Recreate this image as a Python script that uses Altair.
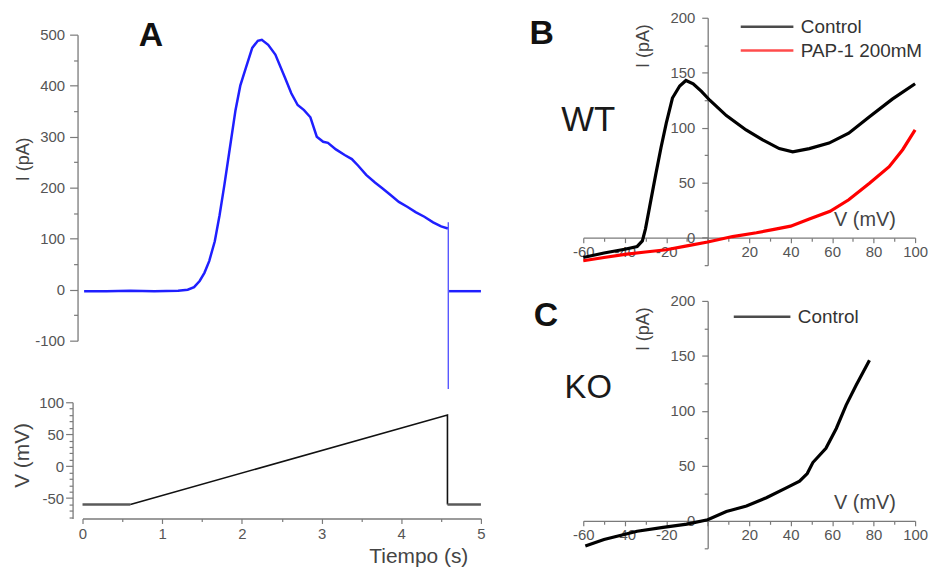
import altair as alt
import pandas as pd

FONT = "Liberation Sans"
AXIS_GRAY = "#7a7a7a"
LABEL_GRAY = "#555555"

# ---------------- Panel A (top): current vs time ----------------
trace_t = [0.02, 0.3, 0.6, 0.9, 1.2, 1.32, 1.4, 1.47, 1.53, 1.59, 1.66, 1.72, 1.78, 1.84,
           1.92, 1.98, 2.05, 2.13, 2.2, 2.25, 2.33, 2.42, 2.54, 2.62, 2.7, 2.78, 2.86, 2.94,
           3.02, 3.08, 3.18, 3.29, 3.38, 3.46, 3.56, 3.67, 3.77, 3.87, 3.97, 4.08, 4.18,
           4.29, 4.4, 4.5, 4.585]
trace_i = [-3, -3, -2, -3, -2, 0, 5, 17, 33, 56, 95, 146, 205, 268,
           352, 400, 435, 474, 488, 490, 480, 461, 416, 385, 362, 352, 338, 300,
           290, 288, 275, 264, 256, 243, 225, 210, 198, 185, 172, 162, 152,
           143, 132, 124, 120]
post_t = [4.6, 5.0]
post_i = [-3, -3]
spike_t = [4.59]
spike_top = [132]
spike_bottom = [-195]

# ---------------- Panel A (bottom): voltage protocol ----------------
hold1_t = [0.0, 0.6]
hold1_v = [-60, -60]
ramp_t = [0.6, 4.58, 4.58]
ramp_v = [-60, 80, -60]
hold2_t = [4.58, 5.0]
hold2_v = [-60, -60]

# ---------------- Panel B (WT) ----------------
ctrl_v = [-60, -50, -40, -34, -31.5, -30, -28, -25, -22.5, -20, -17, -13.5, -10.5, -7, -3,
          1, 9, 18.5, 26.5, 34.5, 41, 49, 58.5, 68, 78, 89, 100]
ctrl_i = [-18, -14, -10.5, -8, -3, 8, 28, 58, 82, 104, 127, 138, 143, 140, 133,
          125, 111, 98, 89, 81, 78, 81, 86, 95, 110, 126, 140]
pap_v = [-60, -50, -39, -30, -20, -10, 0, 12, 23.5, 32, 40, 49, 59, 68, 78, 87.5, 94, 100]
pap_i = [-21, -18, -15, -13, -11, -7.5, -4, 1, 4.5, 7.5, 10.5, 17, 24, 34.5, 49.5, 64.5, 80, 98]

# ---------------- Panel C (KO) ----------------
ko_v = [-59, -50, -34, -21.5, -10, 0, 9, 18.7, 28.3, 37.9, 44.3, 48, 50.7, 57, 62, 66.7, 71.5, 78]
ko_i = [-23, -17, -9.5, -6, -3, 1, 8.4, 13.5, 21, 30, 36, 43, 53, 66, 84, 105, 123, 146]

# tick lists
a_top_ticks = list(range(-100, 501, 50))
a_bot_vticks = list(range(-80, 101, 10))
a_bot_tticks = [i * 0.5 for i in range(11)]
iv_xticks = list(range(-60, 101, 10))
iv_yticks = list(range(-25, 201, 25))

# sizes
WA, HA1, HA2 = 401, 308, 117
WB, HB = 334, 249
A_DOM = [-100, 500]
V_DOM = [-82, 100]
IV_X = [-60, 100]
IV_Y = [-25, 200]


def tsize(test, major, minor):
    return {"condition": {"test": test, "value": major}, "value": minor}


# ================= Panel A top =================
dfA = pd.DataFrame({
    "t": trace_t + post_t,
    "i": trace_i + post_i,
    "seg": ["a"] * len(trace_t) + ["b"] * len(post_t),
    "k": list(range(len(trace_t) + len(post_t))),
})
dfSpike = pd.DataFrame({"t": spike_t, "i": spike_top, "i2": spike_bottom})
dfAL = pd.DataFrame({"t": [0.86], "i": [498], "txt": ["A"]})

xA = alt.X("t:Q", scale=alt.Scale(domain=[0, 5], nice=False, zero=False), axis=None)
yA = alt.Y("i:Q", scale=alt.Scale(domain=A_DOM, nice=False),
           axis=alt.Axis(values=a_top_ticks,
                         labelExpr="datum.value % 100 == 0 ? '' + datum.value : ''",
                         tickSize=tsize("datum.value % 100 == 0", 8, 4),
                         offset=5, labelPadding=5,
                         title="I (pA)", titleX=-54, titleY=125, titleAngle=270,
                         titleAlign="center", titleBaseline="middle", titleFontSize=18))

a_line = alt.Chart(dfA).mark_line(color="#1f1fff", strokeWidth=2.5).encode(
    x=xA, y=yA, detail="seg:N", order="k:Q")
a_spike = alt.Chart(dfSpike).mark_rule(color="#3b3bff", strokeWidth=1.2).encode(
    x=xA, y=yA, y2="i2:Q")
a_letter = alt.Chart(dfAL).mark_text(fontSize=34, fontWeight="bold", font=FONT,
                                     color="#111", baseline="middle", align="center").encode(
    x=xA, y=yA, text="txt:N")
A_top = alt.layer(a_line, a_spike, a_letter).properties(width=WA, height=HA1)

# ================= Panel A bottom =================
dfV = pd.DataFrame({
    "t": hold1_t + ramp_t + hold2_t,
    "v": hold1_v + ramp_v + hold2_v,
    "seg": ["h1"] * 2 + ["r"] * 3 + ["h2"] * 2,
    "kind": ["hold"] * 2 + ["ramp"] * 3 + ["hold"] * 2,
    "k": list(range(7)),
})
xV = alt.X("t:Q", scale=alt.Scale(domain=[0, 5], nice=False, zero=False),
           axis=alt.Axis(values=a_bot_tticks,
                         labelExpr="datum.value % 1 == 0 ? '' + datum.value : ''",
                         tickSize=tsize("datum.value % 1 == 0", 5, 3),
                         labelPadding=3,
                         title="Tiempo (s)", titleX=338, titleY=38, titleFontSize=21,
                         titleAlign="center", titleBaseline="middle"))
yV = alt.Y("v:Q", scale=alt.Scale(domain=V_DOM, nice=False),
           axis=alt.Axis(values=a_bot_vticks,
                         labelExpr="datum.value % 50 == 0 ? '' + datum.value : ''",
                         tickSize=tsize("datum.value % 50 == 0", 7, 3.5),
                         offset=10, labelPadding=2,
                         title="V (mV)", titleX=-50, titleY=53, titleAngle=270,
                         titleAlign="center", titleBaseline="middle", titleFontSize=21))
A_bot = alt.Chart(dfV).mark_line().encode(
    x=xV, y=yV, detail="seg:N", order="k:Q",
    color=alt.Color("kind:N", scale=alt.Scale(domain=["hold", "ramp"], range=["#5a5a5a", "#111111"]),
                    legend=None),
    strokeWidth=alt.StrokeWidth("kind:N", scale=alt.Scale(domain=["hold", "ramp"], range=[2.6, 1.6]),
                                legend=None),
).properties(width=WA, height=HA2)

# ================= Panel B =================
x0_off = -WB * (0 - IV_X[0]) / (IV_X[1] - IV_X[0])
y0_off = HB * (IV_Y[1] - 0) / (IV_Y[1] - IV_Y[0]) - HB


def iv_axes(ytitle_y):
    x = alt.X("v:Q", scale=alt.Scale(domain=IV_X, nice=False, zero=False),
              axis=alt.Axis(values=iv_xticks,
                            labelExpr="datum.value % 20 == 0 && datum.value != 0 ? '' + datum.value : ''",
                            tickSize=tsize("datum.value % 20 == 0", 5, 3.5),
                            offset=y0_off, labelPadding=2,
                            title="V (mV)", titleX=283, titleY=-18,
                            titleAlign="center", titleBaseline="middle"))
    y = alt.Y("i:Q", scale=alt.Scale(domain=IV_Y, nice=False),
              axis=alt.Axis(values=iv_yticks,
                            labelExpr="datum.value % 50 == 0 ? '' + datum.value : ''",
                            tickSize=tsize("datum.value % 50 == 0", 6, 3.5),
                            offset=x0_off, labelPadding=7,
                            title="I (pA)", titleX=-65, titleY=ytitle_y, titleAngle=270,
                            titleAlign="center", titleBaseline="middle", titleFontSize=18))
    return x, y


def legend(lx, ly, size):
    return alt.Legend(orient="none", legendX=lx, legendY=ly, title=None,
                      symbolType="stroke", symbolSize=size, symbolStrokeWidth=2.5,
                      symbolOpacity=0.7, clipHeight=24, rowPadding=0,
                      labelFontSize=19, labelFont=FONT, labelColor="#333",
                      labelOffset=6, padding=0)


dfB = pd.DataFrame({
    "v": ctrl_v + pap_v,
    "i": ctrl_i + pap_i,
    "series": ["Control"] * len(ctrl_v) + ["PAP-1 200mM"] * len(pap_v),
})
dfBT = pd.DataFrame({"v": [-80, -57.6], "i": [185, 107], "txt": ["B", "WT"]})
xB, yB = iv_axes(28)
b_lines = alt.Chart(dfB).mark_line(strokeWidth=3.2).encode(
    x=xB, y=yB,
    color=alt.Color("series:N",
                    scale=alt.Scale(domain=["Control", "PAP-1 200mM"], range=["#000000", "#ff0000"]),
                    legend=legend(157, -3, 2809)),
)
b_B = alt.Chart(dfBT.iloc[[0]]).mark_text(fontSize=34, fontWeight="bold", font=FONT, color="#111",
                                          baseline="middle", align="center").encode(x=xB, y=yB, text="txt:N")
b_WT = alt.Chart(dfBT.iloc[[1]]).mark_text(fontSize=35, font=FONT, color="#1a1a1a",
                                           baseline="middle", align="center").encode(x=xB, y=yB, text="txt:N")
B = alt.layer(b_lines, b_B, b_WT).properties(width=WB, height=HB)

# ================= Panel C =================
dfC = pd.DataFrame({"v": ko_v, "i": ko_i, "series": ["Control"] * len(ko_v)})
dfCT = pd.DataFrame({"v": [-78, -57.6], "i": [186, 121], "txt": ["C", "KO"]})
xC, yC = iv_axes(28)
c_line = alt.Chart(dfC).mark_line(strokeWidth=3.2).encode(
    x=xC, y=yC,
    color=alt.Color("series:N", scale=alt.Scale(domain=["Control"], range=["#000000"]),
                    legend=legend(150, 4, 3249)),
)
c_C = alt.Chart(dfCT.iloc[[0]]).mark_text(fontSize=34, fontWeight="bold", font=FONT, color="#111",
                                          baseline="middle", align="center").encode(x=xC, y=yC, text="txt:N")
c_KO = alt.Chart(dfCT.iloc[[1]]).mark_text(fontSize=33, font=FONT, color="#1a1a1a",
                                           baseline="middle", align="center").encode(x=xC, y=yC, text="txt:N")
C = alt.layer(c_line, c_C, c_KO).properties(width=WB, height=HB)

# ================= Layout =================
spacer = alt.Chart(pd.DataFrame({"s": [0]})).mark_point(opacity=0).encode(
    x=alt.X("s:Q", axis=None), y=alt.Y("s:Q", axis=None)).properties(width=WA, height=17)

colA = alt.vconcat(spacer, alt.vconcat(A_top, A_bot, spacing=62, bounds="flush"),
                   spacing=0, bounds="flush").resolve_scale(color="independent", strokeWidth="independent")
colB = alt.vconcat(B, C, spacing=36, bounds="flush").resolve_scale(color="independent")

chart = alt.hconcat(colA, colB, spacing=42).resolve_scale(
    color="independent", strokeWidth="independent"
).properties(
    padding={"left": 4, "top": 1, "right": 2, "bottom": 2}
).configure_view(stroke=None).configure_axis(
    grid=False, domainColor=AXIS_GRAY, tickColor=AXIS_GRAY, domainWidth=1.3, tickWidth=1.2,
    labelColor=LABEL_GRAY, labelFont=FONT, titleFont=FONT, labelFontSize=15,
    titleFontSize=20, titleFontWeight="normal", titleColor="#444",
    labelOverlap=False, labelFlush=False, labelBound=False,
).configure_text(font=FONT)

chart.save("out.html", embed_options={"renderer": "svg", "actions": False})
